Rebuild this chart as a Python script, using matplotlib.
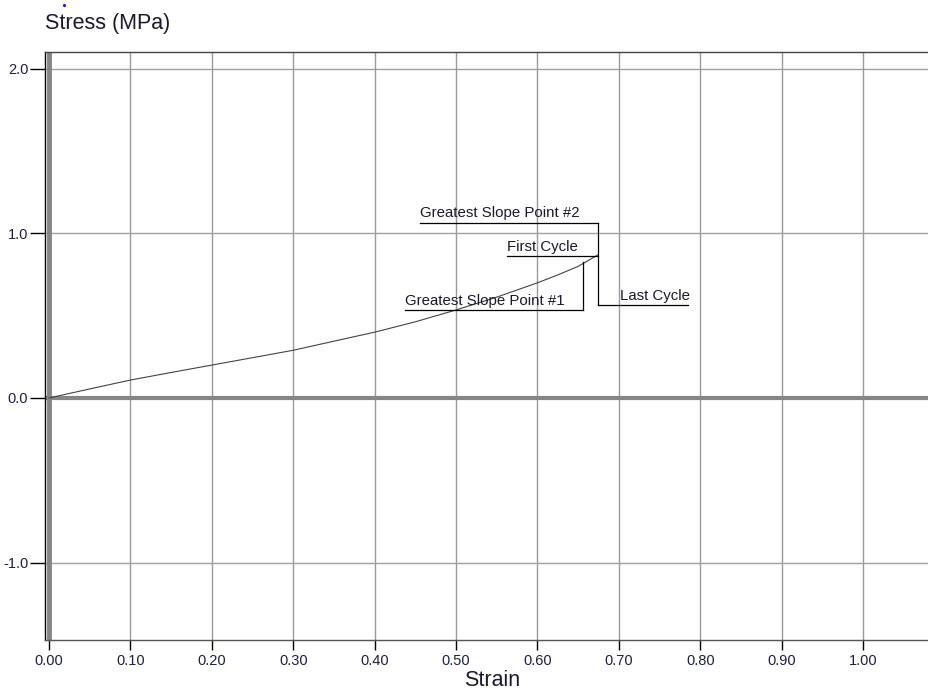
import matplotlib.pyplot as plt
from matplotlib.lines import Line2D

plt.rcParams['font.family'] = ['Liberation Sans', 'DejaVu Sans']

# Loading curve (strain vs stress)
strain = [0.0, 0.05, 0.10, 0.15, 0.20, 0.25, 0.30, 0.357, 0.40, 0.45, 0.50,
          0.55, 0.60, 0.625, 0.65, 0.674]
stress = [0.0, 0.055, 0.109, 0.155, 0.20, 0.245, 0.29, 0.353, 0.40, 0.463, 0.535,
          0.613, 0.70, 0.748, 0.80, 0.869]

x_ticks = [0.0, 0.1, 0.2, 0.3, 0.4, 0.5, 0.6, 0.7, 0.8, 0.9, 1.0]
x_tick_labels = ["0.00", "0.10", "0.20", "0.30", "0.40", "0.50",
                 "0.60", "0.70", "0.80", "0.90", "1.00"]
y_ticks = [-1.0, 0.0, 1.0, 2.0]
y_tick_labels = ["-1.0", "0.0", "1.0", "2.0"]

# Callouts: label, text x, underline (x0, x1, y), leader (x, y0, y1)
callouts = [
    ("Greatest Slope Point #2", 0.456, (0.456, 0.674, 1.064), (0.674, 1.064, 0.565)),
    ("First Cycle", 0.563, (0.563, 0.674, 0.863), None),
    ("Greatest Slope Point #1", 0.437, (0.437, 0.656, 0.535), (0.656, 0.535, 0.827)),
    ("Last Cycle", 0.701, (0.674, 0.785, 0.565), None),
]

fig = plt.figure(figsize=(9.29, 6.93), dpi=100)
ax = fig.add_axes([45 / 929, 53 / 693, 884 / 929, 588 / 693])

ax.set_xlim(-0.0049, 1.081)
ax.set_ylim(-1.471, 2.103)

for x in x_ticks[1:]:
    ax.axvline(x, color='#999999', lw=1.0, zorder=1)
for y in [-1.0, 1.0, 2.0]:
    ax.axhline(y, color='#a0a0a0', lw=1.0, zorder=1)
ax.axvline(0.0, color='#858585', lw=3.5, zorder=2)
ax.axhline(0.0, color='#858585', lw=3.0, zorder=2)

ax.plot(strain, stress, color='#444444', lw=0.8, zorder=3)

for label, tx, (x0, x1, yl), leader in callouts:
    ax.plot([x0, x1], [yl, yl], color='black', lw=0.9, zorder=4)
    if leader is not None:
        lx, ly0, ly1 = leader
        ax.plot([lx, lx], [ly0, ly1], color='black', lw=0.9, zorder=4)
    ax.text(tx, yl + 0.015, label, fontsize=10.8, color='#1a1a2a',
            ha='left', va='bottom', zorder=5)

ax.set_xticks(x_ticks)
ax.set_xticklabels(x_tick_labels)
ax.set_yticks(y_ticks)
ax.set_yticklabels(y_tick_labels)
ax.tick_params(axis='x', length=7, width=1, color='black', pad=3,
               labelsize=10.5, labelcolor='#1e2040')
ax.tick_params(axis='y', length=11, width=1, color='black', pad=1,
               labelsize=10.5, labelcolor='#1e2040')

ax.spines['right'].set_visible(False)
ax.spines['top'].set_color('#444444')
ax.spines['bottom'].set_color('#555555')
ax.spines['left'].set_color('black')
for s in ['top', 'bottom', 'left']:
    ax.spines[s].set_linewidth(1.0)

fig.text(45 / 929, 1 - 24 / 693, "Stress (MPa)", fontsize=15.5,
         color='#1a1a2a', ha='left', va='center')
fig.text(492 / 929, 1 - 680 / 693, "Strain", fontsize=15.5,
         color='#1a1a2a', ha='center', va='center')

# small marker dot at the top edge
fig.add_artist(Line2D([64 / 929], [1 - 5 / 693], marker='o', markersize=1.3,
                      color='#2020d0', transform=fig.transFigure))

fig.savefig("out.png", dpi=100)
